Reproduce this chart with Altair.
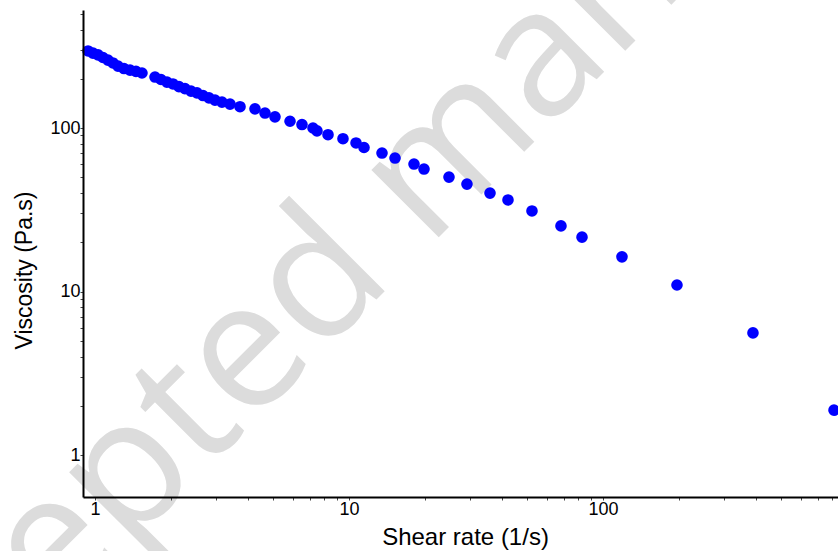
import altair as alt
import pandas as pd

# Shear rate (1/s) and viscosity (Pa.s)
shear_rate = [0.939, 0.982, 1.028, 1.075, 1.125, 1.177, 1.232, 1.301, 1.374, 1.450,
              1.531, 1.723, 1.819, 1.920, 2.028, 2.141, 2.261, 2.388, 2.521, 2.662,
              2.811, 2.968, 3.162, 3.401, 3.724, 4.265, 4.670, 5.113, 5.859, 6.531,
              7.216, 7.482, 8.269, 9.470, 10.66, 11.46, 13.49, 15.18, 18.03, 19.74,
              24.76, 29.14, 35.91, 42.27, 52.54, 68.33, 82.69, 118.8, 195.6, 389.5,
              812.1]
viscosity = [296, 287, 280, 270, 260, 250, 239, 231, 226, 222,
             217, 205, 198, 191, 186, 179, 174, 168, 164, 158,
             153, 148, 144, 140, 135, 131, 123.5, 117, 110, 105,
             100, 96, 91, 86, 81, 76, 70.3, 65.5, 60.2, 56.1,
             50.1, 45.4, 40.0, 36.3, 31.1, 25.2, 21.5, 16.3, 10.96, 5.58,
             1.88]

x_ticks = [1, 2, 3, 4, 5, 6, 7, 8, 9, 10, 20, 30, 40, 50, 60, 70, 80, 90,
           100, 200, 300, 400, 500, 600, 700, 800]
y_ticks = [1, 2, 3, 4, 5, 6, 7, 8, 9, 10, 20, 30, 40, 50, 60, 70, 80, 90,
           100, 200, 300, 400, 500]
watermark = ["Accepted manuscript"]

df = pd.DataFrame({"rate": shear_rate, "visc": viscosity})

label_expr = "indexof([1, 10, 100], datum.value) >= 0 ? format(datum.value, 'd') : ''"

common_axis = dict(
    domainColor="black", domainWidth=2, tickColor="#444444", tickWidth=1,
    tickSize=3, labelFont="Liberation Sans", labelFontSize=18, labelColor="black",
    titleFont="Liberation Sans", titleFontWeight="normal",
    titleColor="black", grid=False, labelOverlap=False, labelFlush=False,
    labelExpr=label_expr, zindex=1,
)

wm = alt.Chart(pd.DataFrame({"t": watermark})).mark_text(
    font="Open Sans", fontSize=178, color="#dcdcdc", angle=315,
    align="left", baseline="alphabetic",
).encode(
    x=alt.value(-228), y=alt.value(811), text="t:N",
)

points = alt.Chart(df).mark_point(
    filled=True, shape="circle", size=135, color="#0000FF", opacity=1,
).encode(
    x=alt.X("rate:Q", scale=alt.Scale(type="log", domain=[0.897, 842], nice=False),
            axis=alt.Axis(values=x_ticks, title="Shear rate (1/s)",
                          labelPadding=0, titleX=382, titleY=47, titleFontSize=24,
                          titleBaseline="alphabetic", titleAlign="center",
                          **common_axis)),
    y=alt.Y("visc:Q", scale=alt.Scale(type="log", domain=[0.5535, 527], nice=False),
            axis=alt.Axis(values=y_ticks, title="Viscosity (Pa.s)",
                          labelPadding=0, titleX=-52, titleY=260, titleAngle=270,
                          titleFontSize=23,
                          titleBaseline="alphabetic", titleAlign="center",
                          **common_axis)),
)

chart = alt.layer(wm, points).properties(
    width=755, height=487,
    background="white",
    autosize=alt.AutoSizeParams(type="none"),
    padding={"left": 83, "top": 10, "right": 0, "bottom": 54},
).configure_view(stroke=None)

chart.save("out.html", embed_options={"renderer": "svg", "actions": False})
